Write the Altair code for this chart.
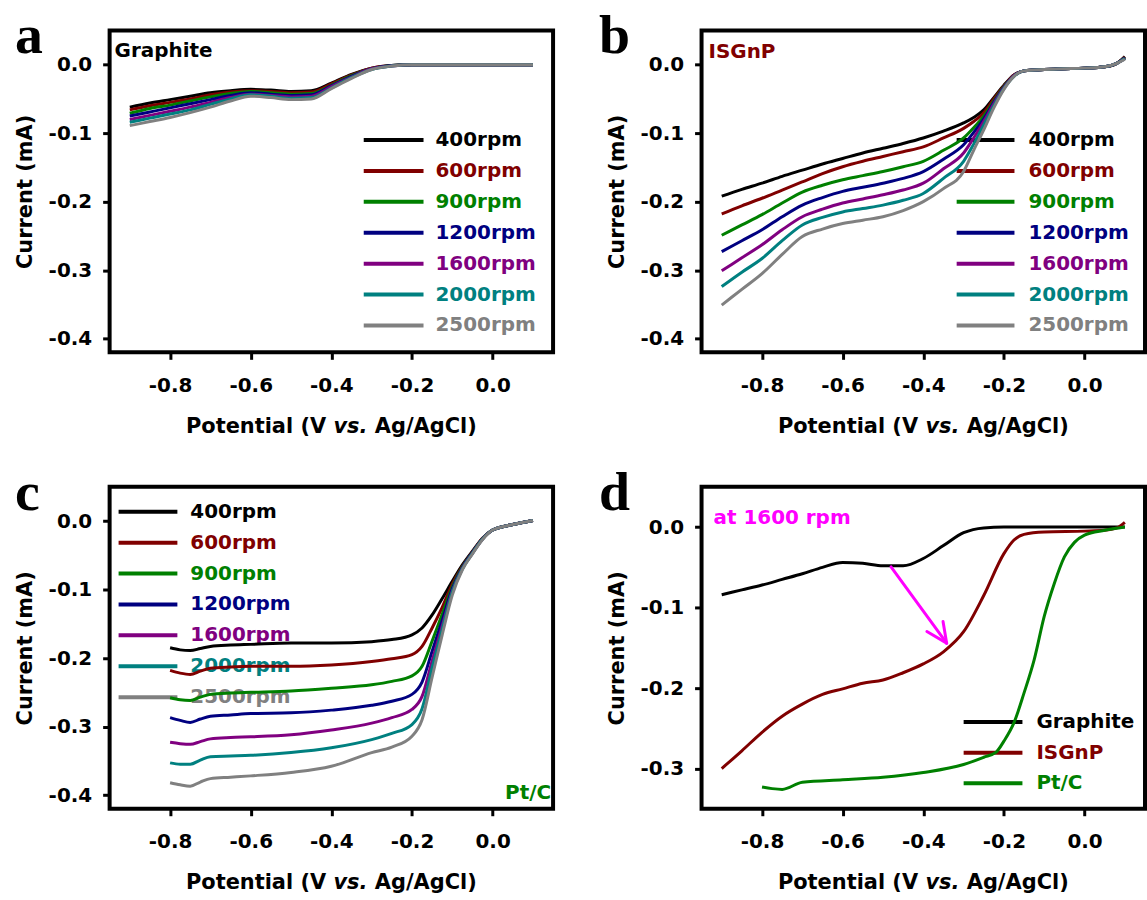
import altair as alt
import pandas as pd

W, H = 445, 323
SANS = "DejaVu Sans"
SERIF = "Liberation Serif"

RPM_LABELS = ["400rpm", "600rpm", "900rpm", "1200rpm", "1600rpm", "2000rpm", "2500rpm"]
RPM_COLORS = ["#000000", "#800000", "#008000", "#000080", "#800080", "#008080", "#808080"]
MATERIAL_LABELS = ["Graphite", "ISGnP", "Pt/C"]
MATERIAL_COLORS = ["#000000", "#800000", "#008000"]
X_TICKS = [-0.8, -0.6, -0.4, -0.2, 0.0]
X_DOMAIN = [-0.95, 0.15]
Y_TICKS_ABC = [0.0, -0.1, -0.2, -0.3, -0.4]
Y_TICKS_D = [0.0, -0.1, -0.2, -0.3]
Y_DOMAIN_ABC = [-0.42, 0.05]
Y_DOMAIN_D = [-0.35, 0.05]

# ---- panel a: Graphite ----
A_X = [-0.9, -0.85, -0.8, -0.75, -0.7, -0.65, -0.6, -0.55, -0.5, -0.45, -0.4, -0.35, -0.3, -0.25, -0.2, -0.1, 0.0, 0.1]
A_400 = [-0.062, -0.056, -0.051, -0.046, -0.041, -0.038, -0.036, -0.037, -0.039, -0.038, -0.027, -0.014, -0.005, -0.001, 0, 0, 0, 0]
A_600 = [-0.066, -0.060, -0.055, -0.050, -0.044, -0.040, -0.038, -0.039, -0.041, -0.040, -0.028, -0.015, -0.005, -0.001, 0, 0, 0, 0]
A_900 = [-0.071, -0.064, -0.059, -0.053, -0.047, -0.042, -0.039, -0.041, -0.043, -0.042, -0.030, -0.016, -0.006, -0.001, 0, 0, 0, 0]
A_1200 = [-0.075, -0.069, -0.063, -0.057, -0.051, -0.045, -0.041, -0.043, -0.045, -0.044, -0.031, -0.017, -0.006, -0.001, 0, 0, 0, 0]
A_1600 = [-0.080, -0.074, -0.068, -0.062, -0.055, -0.048, -0.043, -0.045, -0.047, -0.046, -0.032, -0.018, -0.006, -0.002, 0, 0, 0, 0]
A_2000 = [-0.084, -0.078, -0.072, -0.066, -0.058, -0.050, -0.044, -0.046, -0.049, -0.048, -0.034, -0.019, -0.007, -0.002, 0, 0, 0, 0]
A_2500 = [-0.089, -0.083, -0.077, -0.070, -0.062, -0.053, -0.046, -0.048, -0.051, -0.050, -0.035, -0.020, -0.007, -0.002, 0, 0, 0, 0]

# ---- panel b: ISGnP ----
B_X = [-0.9, -0.85, -0.8, -0.75, -0.7, -0.65, -0.6, -0.55, -0.5, -0.45, -0.4, -0.35, -0.3, -0.275, -0.25, -0.225, -0.2, -0.175, -0.15, -0.1, -0.05, 0.0, 0.05, 0.08, 0.1]
B_400 = [-0.192, -0.182, -0.173, -0.163, -0.154, -0.145, -0.137, -0.129, -0.122, -0.115, -0.107, -0.097, -0.085, -0.077, -0.066, -0.048, -0.030, -0.015, -0.009, -0.007, -0.006, -0.005, -0.003, 0.002, 0.012]
B_600 = [-0.218, -0.206, -0.195, -0.183, -0.171, -0.159, -0.149, -0.141, -0.134, -0.127, -0.120, -0.107, -0.093, -0.083, -0.070, -0.050, -0.031, -0.015, -0.009, -0.007, -0.006, -0.005, -0.003, 0.002, 0.011]
B_900 = [-0.249, -0.234, -0.219, -0.202, -0.186, -0.176, -0.168, -0.162, -0.156, -0.149, -0.141, -0.125, -0.107, -0.092, -0.075, -0.053, -0.032, -0.016, -0.009, -0.007, -0.006, -0.005, -0.003, 0.002, 0.010]
B_1200 = [-0.273, -0.257, -0.241, -0.222, -0.205, -0.194, -0.185, -0.179, -0.173, -0.166, -0.156, -0.138, -0.117, -0.099, -0.079, -0.055, -0.033, -0.016, -0.009, -0.007, -0.006, -0.005, -0.003, 0.002, 0.010]
B_1600 = [-0.301, -0.282, -0.263, -0.241, -0.222, -0.211, -0.202, -0.196, -0.190, -0.183, -0.173, -0.152, -0.129, -0.107, -0.083, -0.057, -0.034, -0.016, -0.009, -0.007, -0.006, -0.005, -0.003, 0.002, 0.009]
B_2000 = [-0.324, -0.303, -0.283, -0.257, -0.234, -0.223, -0.215, -0.210, -0.205, -0.198, -0.188, -0.166, -0.141, -0.116, -0.088, -0.060, -0.035, -0.017, -0.009, -0.007, -0.006, -0.005, -0.003, 0.002, 0.009]
B_2500 = [-0.351, -0.328, -0.305, -0.277, -0.251, -0.240, -0.232, -0.227, -0.222, -0.213, -0.200, -0.181, -0.156, -0.125, -0.095, -0.063, -0.036, -0.017, -0.009, -0.007, -0.006, -0.005, -0.003, 0.002, 0.008]

# ---- panel c: Pt/C ----
C_X = [-0.8, -0.775, -0.75, -0.725, -0.7, -0.65, -0.6, -0.5, -0.4, -0.3, -0.25, -0.2, -0.175, -0.15, -0.125, -0.1, -0.075, -0.05, -0.025, 0.0, 0.05, 0.1]
C_400 = [-0.185, -0.188, -0.189, -0.186, -0.183, -0.181, -0.180, -0.178, -0.178, -0.176, -0.173, -0.166, -0.156, -0.137, -0.113, -0.088, -0.064, -0.044, -0.025, -0.013, -0.005, 0.001]
C_600 = [-0.218, -0.222, -0.224, -0.219, -0.215, -0.213, -0.212, -0.212, -0.210, -0.205, -0.201, -0.195, -0.183, -0.156, -0.126, -0.092, -0.066, -0.045, -0.025, -0.013, -0.005, 0.001]
C_900 = [-0.258, -0.261, -0.262, -0.257, -0.253, -0.251, -0.250, -0.248, -0.244, -0.239, -0.234, -0.226, -0.212, -0.175, -0.136, -0.096, -0.067, -0.046, -0.026, -0.013, -0.005, 0.001]
C_1200 = [-0.287, -0.291, -0.294, -0.289, -0.285, -0.283, -0.281, -0.280, -0.276, -0.269, -0.263, -0.253, -0.235, -0.190, -0.145, -0.099, -0.068, -0.046, -0.026, -0.013, -0.005, 0.001]
C_1600 = [-0.323, -0.325, -0.326, -0.322, -0.318, -0.316, -0.315, -0.312, -0.305, -0.295, -0.287, -0.275, -0.256, -0.204, -0.153, -0.102, -0.069, -0.047, -0.026, -0.013, -0.005, 0.001]
C_2000 = [-0.353, -0.355, -0.355, -0.349, -0.344, -0.343, -0.342, -0.338, -0.331, -0.319, -0.310, -0.297, -0.274, -0.214, -0.158, -0.104, -0.070, -0.047, -0.026, -0.013, -0.005, 0.001]
C_2500 = [-0.382, -0.385, -0.387, -0.381, -0.376, -0.374, -0.372, -0.367, -0.358, -0.338, -0.330, -0.314, -0.290, -0.228, -0.166, -0.108, -0.071, -0.048, -0.027, -0.013, -0.005, 0.001]

# ---- panel d: comparison at 1600 rpm ----
D_GR_X = [-0.9, -0.85, -0.8, -0.75, -0.7, -0.65, -0.6, -0.55, -0.5, -0.45, -0.4, -0.35, -0.3, -0.25, -0.2, -0.1, 0.0, 0.1]
D_GR_Y = [-0.084, -0.078, -0.072, -0.065, -0.058, -0.050, -0.044, -0.045, -0.048, -0.048, -0.039, -0.023, -0.007, -0.001, 0, 0, 0, 0]
D_IS_X = [-0.9, -0.85, -0.8, -0.75, -0.7, -0.65, -0.6, -0.55, -0.5, -0.45, -0.4, -0.35, -0.3, -0.25, -0.2, -0.175, -0.15, -0.1, 0.0, 0.05, 0.08, 0.1]
D_IS_Y = [-0.300, -0.278, -0.255, -0.235, -0.220, -0.208, -0.201, -0.194, -0.190, -0.181, -0.170, -0.155, -0.130, -0.085, -0.033, -0.016, -0.009, -0.006, -0.005, -0.004, -0.001, 0.006]
D_PT_X = [-0.8, -0.775, -0.75, -0.7, -0.6, -0.5, -0.4, -0.3, -0.25, -0.22, -0.2, -0.175, -0.15, -0.125, -0.1, -0.075, -0.05, -0.025, 0.0, 0.05, 0.1]
D_PT_Y = [-0.323, -0.325, -0.326, -0.317, -0.314, -0.311, -0.305, -0.295, -0.286, -0.280, -0.266, -0.243, -0.206, -0.165, -0.111, -0.070, -0.037, -0.019, -0.010, -0.004, 0.000]

# arrow in panel d (shaft + two head strokes), data coordinates
ARROW_X0 = [-0.48, -0.342, -0.342]
ARROW_Y0 = [-0.0494, -0.1442, -0.1442]
ARROW_X1 = [-0.342, -0.391, -0.351]
ARROW_Y1 = [-0.1442, -0.1298, -0.1174]

LABEL_EXPR = "datum.value < -1e-9 ? '-' + format(-datum.value, '.1f') : format(abs(datum.value), '.1f')"

LETTER_SIZE = 56
LETTER_BASE = 23


def scales(ydom):
    return (alt.Scale(domain=X_DOMAIN, nice=False, zero=False),
            alt.Scale(domain=ydom, nice=False, zero=False))


def axes(yticks):
    xax = alt.Axis(values=X_TICKS, labelExpr=LABEL_EXPR, title=None, labelPadding=16)
    yax = alt.Axis(values=yticks, labelExpr=LABEL_EXPR, title="Current (mA)",
                   titleX=-78, titleY=H / 2, titleBaseline="alphabetic", titleAngle=270,
                   labelPadding=11)
    return xax, yax


def curve(xs, ys, color, ydom, yticks, width=3):
    xs_, ys_ = scales(ydom)
    xax, yax = axes(yticks)
    return alt.Chart(pd.DataFrame({"x": xs, "y": ys})).mark_line(
        color=color, strokeWidth=width, interpolate="monotone"
    ).encode(
        x=alt.X("x:Q", scale=xs_, axis=xax),
        y=alt.Y("y:Q", scale=ys_, axis=yax),
    )


def txt(s, x, y, size=20, color="#000000", align="left", baseline="alphabetic",
        font=SANS, weight="bold", style="normal"):
    return alt.Chart(pd.DataFrame({"t": [s]})).mark_text(
        align=align, baseline=baseline, font=font, fontSize=size,
        fontWeight=weight, fontStyle=style, color=color
    ).encode(text="t:N", x=alt.value(x), y=alt.value(y))


def seg(x1, x2, y, color, width=4):
    return alt.Chart(pd.DataFrame({"t": [0]})).mark_rule(
        color=color, strokeWidth=width
    ).encode(x=alt.value(x1), x2=alt.value(x2), y=alt.value(y))


def legend(labels, colors, lx1, lx2, tx, y0, dy):
    out = []
    for i, (lab, col) in enumerate(zip(labels, colors)):
        yy = y0 + dy * i
        out.append(seg(lx1, lx2, yy, col))
        out.append(txt(lab, tx, yy, color=col, baseline="middle"))
    return out


def xtitle():
    cx = W / 2
    yb = H + 81
    return [
        txt("Potential (V", cx - 5.2, yb, size=21, align="right"),
        txt("vs.", cx + 19.2, yb, size=21, align="center", style="italic"),
        txt("Ag/AgCl)", cx + 43.6, yb, size=21, align="left"),
    ]


def letter(ch, x):
    return txt(ch, x, LETTER_BASE, size=LETTER_SIZE, font=SERIF, weight="bold")


# panel a
layers_a = legend(RPM_LABELS, RPM_COLORS, 255, 315, 327, 110, 31)
for ys, col in zip([A_400, A_600, A_900, A_1200, A_1600, A_2000, A_2500], RPM_COLORS):
    layers_a.append(curve(A_X, ys, col, Y_DOMAIN_ABC, Y_TICKS_ABC))
layers_a += [txt("Graphite", 5, 27)] + xtitle() + [letter("a", -95)]
panel_a = alt.layer(*layers_a).properties(width=W, height=H)

# panel b
layers_b = legend(RPM_LABELS, RPM_COLORS, 256, 314, 328, 110, 31)
for ys, col in zip([B_400, B_600, B_900, B_1200, B_1600, B_2000, B_2500], RPM_COLORS):
    layers_b.append(curve(B_X, ys, col, Y_DOMAIN_ABC, Y_TICKS_ABC))
layers_b += [txt("ISGnP", 7, 28, color="#800000")] + xtitle() + [letter("b", -103)]
panel_b = alt.layer(*layers_b).properties(width=W, height=H)

# panel c
layers_c = legend(RPM_LABELS, RPM_COLORS, 9, 68, 81, 25, 31)
for ys, col in zip([C_400, C_600, C_900, C_1200, C_1600, C_2000, C_2500], RPM_COLORS):
    layers_c.append(curve(C_X, ys, col, Y_DOMAIN_ABC, Y_TICKS_ABC))
layers_c += [txt("Pt/C", 443, 313, color="#008000", align="right")] + xtitle() + [letter("c", -95)]
panel_c = alt.layer(*layers_c).properties(width=W, height=H)

# panel d
layers_d = legend(MATERIAL_LABELS, MATERIAL_COLORS, 263, 322, 336, 236, 30.7)
for xs, ys, col in zip([D_GR_X, D_IS_X, D_PT_X], [D_GR_Y, D_IS_Y, D_PT_Y], MATERIAL_COLORS):
    layers_d.append(curve(xs, ys, col, Y_DOMAIN_D, Y_TICKS_D))
xs_d, ys_d = scales(Y_DOMAIN_D)
xax_d, yax_d = axes(Y_TICKS_D)
arrow = alt.Chart(pd.DataFrame({"x": ARROW_X0, "y": ARROW_Y0, "x2": ARROW_X1, "y2": ARROW_Y1})).mark_rule(
    color="#FF00FF", strokeWidth=3, strokeCap="round"
).encode(
    x=alt.X("x:Q", scale=xs_d, axis=xax_d),
    y=alt.Y("y:Q", scale=ys_d, axis=yax_d),
    x2="x2:Q",
    y2="y2:Q",
)
layers_d += [arrow, txt("at 1600 rpm", 12, 37, color="#FF00FF")] + xtitle() + [letter("d", -103)]
panel_d = alt.layer(*layers_d).properties(width=W, height=H)

top = alt.hconcat(panel_a, panel_b, spacing=42)
bottom = alt.hconcat(panel_c, panel_d, spacing=42)

chart = alt.vconcat(top, bottom, spacing=24).properties(
    padding={"left": 13, "top": 5, "right": 0, "bottom": 0},
    background="white",
).configure_view(
    stroke="black", strokeWidth=4
).configure_axis(
    domain=False, grid=False, ticks=True, tickColor="black", tickWidth=3, tickSize=7,
    labelFont=SANS, labelFontSize=20, labelFontWeight="bold", labelColor="black",
    titleFont=SANS, titleFontSize=21, titleFontWeight="bold", titleColor="black",
)

chart.save("out.html", embed_options={"renderer": "svg", "actions": False})
